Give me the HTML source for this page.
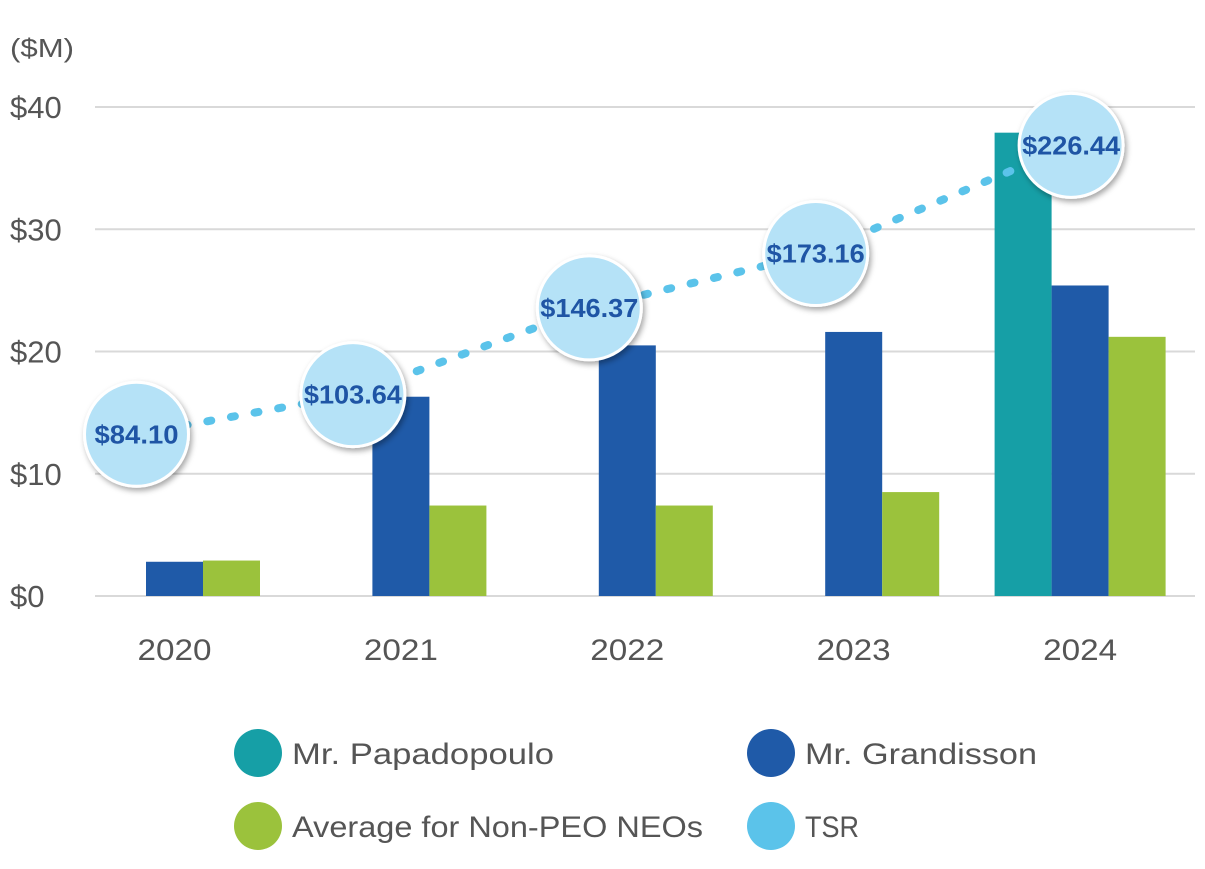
<!DOCTYPE html>
<html><head><meta charset="utf-8"><style>
body{margin:0;background:#fff;width:1205px;height:864px;overflow:hidden;font-family:"Liberation Sans",sans-serif}
</style></head><body>
<svg id="chart" width="1205" height="864">
<defs><filter id="sh" x="-30%" y="-30%" width="160%" height="160%"><feDropShadow dx="2" dy="3" stdDeviation="3" flood-color="#000" flood-opacity="0.35"/></filter></defs>
<text x="10" y="57" font-size="26" fill="#555" textLength="64" lengthAdjust="spacingAndGlyphs">($M)</text>
<g id="grid"></g><g id="bars"></g><g id="tsr"></g><g id="xlab"></g>
<g>
<circle cx="258" cy="753" r="24" fill="#169fa6"/>
<text x="292" y="764" font-size="30" fill="#555" textLength="262" lengthAdjust="spacingAndGlyphs">Mr. Papadopoulo</text>
<circle cx="771" cy="753" r="24" fill="#1f5aa8"/>
<text x="805" y="764" font-size="30" fill="#555" textLength="232" lengthAdjust="spacingAndGlyphs">Mr. Grandisson</text>
<circle cx="258" cy="826" r="24" fill="#9bc23c"/>
<text x="292" y="837" font-size="30" fill="#555" textLength="411" lengthAdjust="spacingAndGlyphs">Average for Non-PEO NEOs</text>
<circle cx="771" cy="826" r="24" fill="#5bc3ea"/>
<text x="805" y="837" font-size="30" fill="#555" textLength="54" lengthAdjust="spacingAndGlyphs">TSR</text>
</g>
</svg>
<script>
const categories=["2020","2021","2022","2023","2024"];
const papadopoulo=[0,0,0,0,37.9];
const grandisson=[2.8,16.3,20.5,21.6,25.4];
const nonPeo=[2.9,7.4,7.4,8.5,21.2];
const tsr=[84.10,103.64,146.37,173.16,226.44];
const yTicks=[0,10,20,30,40];
const NS="http://www.w3.org/2000/svg";
function mk(t,a,p){const e=document.createElementNS(NS,t);for(const k in a)e.setAttribute(k,a[k]);p.appendChild(e);return e;}
const y=v=>596-v*12.225;
const xc=i=>174.5+i*226.4;
const ty=v=>605-v*2.03;
const grid=document.getElementById('grid');
yTicks.forEach(t=>{
 const l=mk('line',{x1:95,x2:1195,y1:y(t),y2:y(t),stroke:'#d9d9d9','stroke-width':2},grid);
 
 
 const tx=mk('text',{x:10,y:y(t)+11,'font-size':31,fill:'#555'},grid);tx.textContent='$'+t;
 
 
});
const bars=document.getElementById('bars');const bw=57;
const series=[[papadopoulo,'#169fa6','papadopoulo'],[grandisson,'#1f5aa8','grandisson'],[nonPeo,'#9bc23c','non-peo']];
categories.forEach((c,i)=>{
 series.forEach((s,j)=>{const v=s[0][i];if(!v)return;
  const r=mk('rect',{x:xc(i)+(j-1.5)*bw,y:y(v),width:bw,height:y(0)-y(v),fill:s[1]},bars);
  
  });
 const t=mk('text',{x:xc(i),y:660,'font-size':30,fill:'#555','text-anchor':'middle',textLength:74,lengthAdjust:'spacingAndGlyphs'},document.getElementById('xlab'));t.textContent=c;
 
 
});
const g=document.getElementById('tsr');
const px=i=>xc(i)-(i==4?9:(i==1?48:38));
const pts=tsr.map((v,i)=>px(i)+','+ty(v)).join(' ');
const pl=mk('polyline',{points:pts,fill:'none',stroke:'#5bc3ea','stroke-width':8,'stroke-dasharray':'4 20','stroke-linecap':'round'},g);


tsr.forEach((v,i)=>{
 const c=mk('circle',{cx:px(i),cy:ty(v),r:52,fill:'#b5e2f7',stroke:'#fff','stroke-width':3,filter:'url(#sh)'},g);
 
 
 const t=mk('text',{x:px(i),y:ty(v)+9,'font-size':26,'font-weight':'bold',fill:'#1f55a5','text-anchor':'middle',textLength:v>=100?98:84,lengthAdjust:'spacingAndGlyphs'},g);
 t.textContent='$'+v.toFixed(2);
 
 
});
</script>
</body></html>
